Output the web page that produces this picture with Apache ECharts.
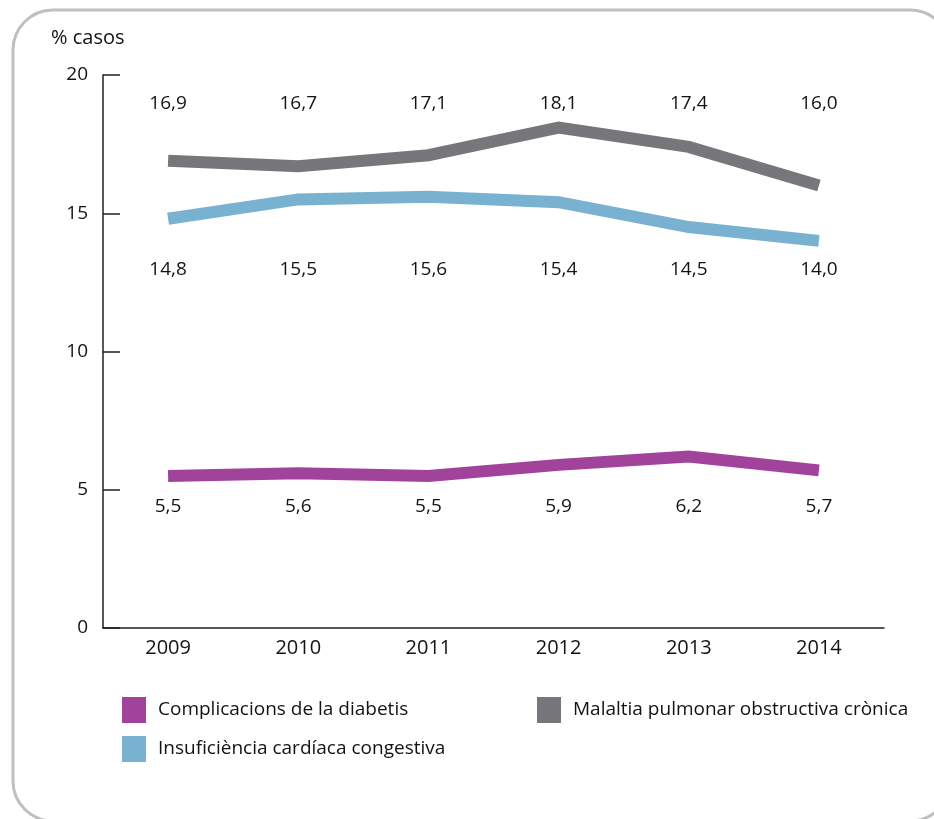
<!DOCTYPE html>
<html>
<head>
<meta charset="utf-8">
<script src="https://cdn.jsdelivr.net/npm/echarts@6/dist/echarts.min.js"></script>
<style>
  html, body { margin: 0; padding: 0; background: #ffffff; }
  #chart { width: 934px; height: 819px; }
</style>
</head>
<body>
<div id="chart"></div>
<script>
// Years on the horizontal axis
const years = ['2009', '2010', '2011', '2012', '2013', '2014'];

// Series names
const nameDiabetis = 'Complicacions de la diabetis';
const nameCardiaca = 'Insuficiència cardíaca congestiva';
const nameMPOC = 'Malaltia pulmonar obstructiva crònica';

// Percentage of cases per year
const valuesDiabetis = [5.5, 5.6, 5.5, 5.9, 6.2, 5.7];
const valuesCardiaca = [14.8, 15.5, 15.6, 15.4, 14.5, 14.0];
const valuesMPOC = [16.9, 16.7, 17.1, 18.1, 17.4, 16.0];

// Y axis ticks
const yTicks = [0, 5, 10, 15, 20];

const FONT = '"Open Sans", "Noto Sans", sans-serif';
const TEXT = '#141213';
const colDiabetis = '#a2439b';
const colCardiaca = '#79b2d0';
const colMPOC = '#77767b';

// Value labels sit on fixed rows (in axis units) above or below each line
function labelRow(name, values, rowY) {
  return {
    name: name + ' (etiquetes)',
    type: 'scatter',
    silent: true,
    symbolSize: 1,
    itemStyle: { color: 'transparent', opacity: 1 },
    data: values.map((v, i) => ({ value: [years[i], rowY], raw: v })),
    label: {
      show: true,
      position: 'inside',
      color: TEXT,
      opacity: 1,
      textBorderWidth: 0,
      fontFamily: FONT,
      fontSize: 19,
      formatter: p => p.data.raw.toFixed(1).replace('.', ',')
    },
    z: 5
  };
}

function lineSeries(name, values, color) {
  return {
    name: name,
    type: 'line',
    data: values,
    showSymbol: false,
    symbol: 'none',
    color: color,
    lineStyle: { width: 12, color: color, cap: 'butt', join: 'miter' },
    z: 3
  };
}

const chart = echarts.init(document.getElementById('chart'), null, { renderer: 'canvas' });

const legendCommon = {
  icon: 'rect',
  itemWidth: 24,
  itemHeight: 26,
  itemGap: 10,
  padding: 0,
  selectedMode: false,
  textStyle: { color: TEXT, fontFamily: FONT, fontSize: 19, padding: [0, 0, 0, 7] }
};

chart.setOption({
  animation: false,
  backgroundColor: '#ffffff',
  graphic: [
    {
      type: 'rect',
      shape: { x: 13, y: 10, width: 937, height: 811, r: 40 },
      style: { fill: 'none', stroke: '#bfbfbf', lineWidth: 3 },
      z: 0
    },
    {
      type: 'text',
      left: 51,
      top: 28,
      style: { text: '% casos', fill: TEXT, font: '20px ' + FONT }
    }
  ],
  grid: { left: 103, right: 50, top: 75, bottom: 191, containLabel: false },
  legend: [
    Object.assign({ data: [nameDiabetis], left: 122, top: 697 }, legendCommon),
    Object.assign({ data: [nameCardiaca], left: 122, top: 736 }, legendCommon),
    Object.assign({ data: [nameMPOC], left: 537, top: 697 }, legendCommon)
  ],
  xAxis: {
    type: 'category',
    data: years,
    boundaryGap: true,
    axisLine: { lineStyle: { color: '#231f20', width: 1.5 } },
    axisTick: { inside: true, length: 20, alignWithLabel: true, lineStyle: { color: '#231f20', width: 1.5 } },
    axisLabel: { color: TEXT, fontFamily: FONT, fontSize: 20, margin: 10 },
    splitLine: { show: false }
  },
  yAxis: {
    type: 'value',
    min: yTicks[0],
    max: yTicks[yTicks.length - 1],
    interval: 5,
    axisLine: { show: true, lineStyle: { color: '#231f20', width: 1.5 } },
    axisTick: { show: true, inside: true, length: 17, lineStyle: { color: '#231f20', width: 1.5 } },
    axisLabel: { color: TEXT, fontFamily: FONT, fontSize: 19, margin: 15 },
    splitLine: { show: false }
  },
  series: [
    lineSeries(nameMPOC, valuesMPOC, colMPOC),
    lineSeries(nameCardiaca, valuesCardiaca, colCardiaca),
    lineSeries(nameDiabetis, valuesDiabetis, colDiabetis),
    labelRow(nameMPOC, valuesMPOC, 18.95),
    labelRow(nameCardiaca, valuesCardiaca, 12.97),
    labelRow(nameDiabetis, valuesDiabetis, 4.38)
  ]
});
</script>
</body>
</html>
